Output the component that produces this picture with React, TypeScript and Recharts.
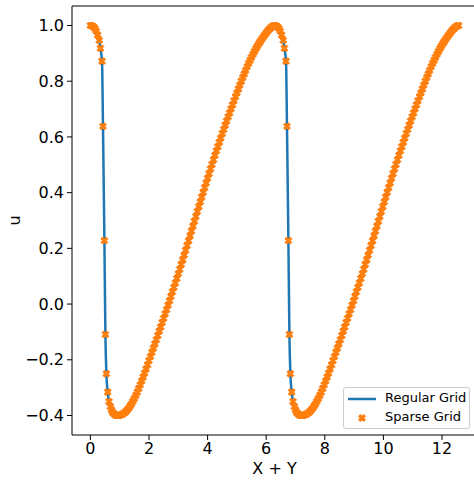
import * as React from "react"
import { ComposedChart, Line, Scatter, XAxis, YAxis, ReferenceLine, Legend } from "recharts"

// X + Y sample positions, first period (top, steep front, slow rise)
const xPeriod1 = [
  0, 0.05, 0.1, 0.15, 0.2, 0.25, 0.3, 0.341, 0.396, 0.43, 0.478, 0.512, 0.546, 0.59, 0.635, 0.68, 0.72, 0.76, 0.8,
  0.85, 0.9, 0.95, 1, 1.05, 1.1, 1.15, 1.2, 1.25, 1.3,
  1.35, 1.4, 1.45, 1.5, 1.55, 1.6, 1.65, 1.7, 1.75, 1.8,
  1.85, 1.9, 1.95, 2, 2.05, 2.1, 2.15, 2.2, 2.25, 2.3,
  2.35, 2.4, 2.45, 2.5, 2.55, 2.6, 2.65, 2.7, 2.75, 2.8,
  2.85, 2.9, 2.95, 3, 3.05, 3.1, 3.15, 3.2, 3.25, 3.3,
  3.35, 3.4, 3.45, 3.5, 3.55, 3.6, 3.65, 3.7, 3.75, 3.8,
  3.85, 3.9, 3.95, 4, 4.05, 4.1, 4.15, 4.2, 4.25, 4.3,
  4.35, 4.4, 4.45, 4.5, 4.55, 4.6, 4.65, 4.7, 4.75, 4.8,
  4.85, 4.9, 4.95, 5, 5.05, 5.1, 5.15, 5.2, 5.25, 5.3,
  5.35, 5.4, 5.45, 5.5, 5.55, 5.6, 5.65, 5.7, 5.75, 5.8,
  5.85, 5.9, 5.95, 6, 6.05, 6.1, 6.15, 6.2, 6.25,
]

// second period
const xPeriod2 = [
  6.28, 6.33, 6.38, 6.43, 6.48, 6.53, 6.58, 6.621, 6.676, 6.71, 6.758, 6.792, 6.826, 6.87, 6.915, 6.96, 7, 7.04, 7.08,
  7.13, 7.18, 7.23, 7.28, 7.33, 7.38, 7.43, 7.48, 7.53, 7.58,
  7.63, 7.68, 7.73, 7.78, 7.83, 7.88, 7.93, 7.98, 8.03, 8.08,
  8.13, 8.18, 8.23, 8.28, 8.33, 8.38, 8.43, 8.48, 8.53, 8.58,
  8.63, 8.68, 8.73, 8.78, 8.83, 8.88, 8.93, 8.98, 9.03, 9.08,
  9.13, 9.18, 9.23, 9.28, 9.33, 9.38, 9.43, 9.48, 9.53, 9.58,
  9.63, 9.68, 9.73, 9.78, 9.83, 9.88, 9.93, 9.98, 10.03, 10.08,
  10.13, 10.18, 10.23, 10.28, 10.33, 10.38, 10.43, 10.48, 10.53, 10.58,
  10.63, 10.68, 10.73, 10.78, 10.83, 10.88, 10.93, 10.98, 11.03, 11.08,
  11.13, 11.18, 11.23, 11.28, 11.33, 11.38, 11.43, 11.48, 11.53, 11.58,
  11.63, 11.68, 11.73, 11.78, 11.83, 11.88, 11.93, 11.98, 12.03, 12.08,
  12.13, 12.18, 12.23, 12.28, 12.33, 12.38, 12.43, 12.48, 12.53,
]

// u, same shape in both periods
const uPeriod = [
  1.0, 0.999, 0.996, 0.99, 0.98, 0.966, 0.947, 0.918, 0.872, 0.638, 0.228, -0.109, -0.25, -0.316, -0.35, -0.368, -0.38, -0.389, -0.394,
  -0.398, -0.4, -0.4, -0.399, -0.397, -0.395, -0.391, -0.387, -0.381, -0.375,
  -0.367, -0.359, -0.349, -0.339, -0.328, -0.316, -0.303, -0.29, -0.276, -0.262,
  -0.248, -0.233, -0.218, -0.203, -0.188, -0.173, -0.158, -0.143, -0.128, -0.113,
  -0.097, -0.082, -0.066, -0.051, -0.035, -0.02, -0.004, 0.012, 0.028, 0.044,
  0.06, 0.076, 0.092, 0.109, 0.125, 0.142, 0.159, 0.176, 0.193, 0.21,
  0.227, 0.245, 0.262, 0.28, 0.297, 0.315, 0.332, 0.35, 0.367, 0.384,
  0.401, 0.418, 0.435, 0.452, 0.468, 0.485, 0.501, 0.518, 0.534, 0.55,
  0.565, 0.581, 0.596, 0.612, 0.627, 0.642, 0.657, 0.672, 0.686, 0.701,
  0.715, 0.73, 0.744, 0.758, 0.772, 0.786, 0.8, 0.813, 0.826, 0.839,
  0.852, 0.864, 0.875, 0.886, 0.897, 0.907, 0.917, 0.926, 0.935, 0.943,
  0.951, 0.959, 0.966, 0.973, 0.98, 0.986, 0.991, 0.996, 0.999,
]

const xEnd = [12.566]
const uEnd = [1.0]

const xTicks = [0, 2, 4, 6, 8, 10, 12]
const yTicks = [-0.4, -0.2, 0.0, 0.2, 0.4, 0.6, 0.8, 1.0]
const xDomain = [-0.628, 13.195]
const yDomain = [-0.47, 1.07]

const BLUE = "#1f77b4"
const ORANGE = "#ff7f0e"
const FONT = "'DejaVu Sans', sans-serif"

const toPoints = (xs: number[], us: number[]) => xs.map((x, i) => ({ x, u: us[i] }))

const points = [
  ...toPoints(xPeriod1, uPeriod),
  ...toPoints(xPeriod2, uPeriod),
  ...toPoints(xEnd, uEnd),
]

// matplotlib's filled "X" marker
const xMarkPath = (cx: number, cy: number, size: number) => {
  const k = size / 4
  const pts = [
    [-1, -2], [0, -1], [1, -2], [2, -1], [1, 0], [2, 1],
    [1, 2], [0, 1], [-1, 2], [-2, 1], [-1, 0], [-2, -1],
  ]
  return "M" + pts.map(([a, b]) => `${cx + a * k},${cy + b * k}`).join("L") + "Z"
}

const XMark = (props: any) => {
  const { cx, cy } = props
  if (cx == null || cy == null) return null
  return <path d={xMarkPath(cx, cy, 7)} fill={ORANGE} stroke={ORANGE} strokeWidth={1} strokeLinejoin="round" />
}

const LegendBox = () => (
  <div
    style={{
      position: "relative",
      width: 127,
      height: 42,
      boxSizing: "border-box",
      border: "1px solid #cccccc",
      borderRadius: 3,
      background: "rgba(255,255,255,0.8)",
      fontFamily: FONT,
      fontSize: 13,
      color: "#000",
    }}
  >
    <svg width={30} height={10} style={{ position: "absolute", left: 3, top: 6 }}>
      <line x1={1} y1={5} x2={29} y2={5} stroke={BLUE} strokeWidth={2.5} />
    </svg>
    <span style={{ position: "absolute", left: 41, top: 2, lineHeight: "16px", whiteSpace: "nowrap" }}>Regular Grid</span>
    <svg width={12} height={12} style={{ position: "absolute", left: 12, top: 24 }}>
      <path d={xMarkPath(6, 6, 7)} fill={ORANGE} stroke={ORANGE} strokeWidth={1} strokeLinejoin="round" />
    </svg>
    <span style={{ position: "absolute", left: 41, top: 21, lineHeight: "16px", whiteSpace: "nowrap" }}>Sparse Grid</span>
  </div>
)

const tickStyle = { fontSize: 16, fontFamily: FONT, fill: "#000" }

export default function App() {
  return (
    <div style={{ position: "absolute", left: 0, top: 0, width: 474, height: 483, overflow: "hidden", background: "#fff" }}>
      <ComposedChart width={480} height={483} margin={{ top: 6, right: 3, bottom: 0, left: 0 }}>
        <XAxis
          dataKey="x"
          type="number"
          domain={xDomain}
          ticks={xTicks}
          allowDataOverflow
          height={48}
          stroke="#000"
          tickSize={5}
          tickMargin={3}
          tick={tickStyle}
          label={(p: any) => {
            const vb = p.viewBox || { x: 72, y: 435, width: 405, height: 48 }
            return (
              <text x={vb.x + vb.width / 2} y={vb.y + vb.height - 9} textAnchor="middle" fontSize={16} fontFamily={FONT} fill="#000">
                X + Y
              </text>
            )
          }}
        />
        <YAxis
          type="number"
          domain={yDomain}
          ticks={yTicks}
          allowDataOverflow
          width={72}
          stroke="#000"
          tickSize={5}
          tickMargin={3}
          tick={tickStyle}
          tickFormatter={(v: number) => v.toFixed(1).replace("-", "\u2212")}
          label={(p: any) => {
            const vb = p.viewBox || { x: 0, y: 6, width: 72, height: 429 }
            const cx = vb.x + 14
            const cy = vb.y + vb.height / 2
            return (
              <text x={cx} y={cy} transform={`rotate(-90, ${cx}, ${cy})`} textAnchor="middle" dominantBaseline="central" fontSize={16} fontFamily={FONT} fill="#000">
                u
              </text>
            )
          }}
        />
        <ReferenceLine y={yDomain[1]} stroke="#000" strokeWidth={1} ifOverflow="extendDomain" />
        <ReferenceLine x={xDomain[1]} stroke="#000" strokeWidth={1} ifOverflow="extendDomain" />
        <Line
          data={points}
          dataKey="u"
          type="monotone"
          stroke={BLUE}
          strokeWidth={2.5}
          dot={false}
          activeDot={false}
          isAnimationActive={false}
          name="Regular Grid"
        />
        <Scatter data={points} dataKey="u" shape={<XMark />} isAnimationActive={false} name="Sparse Grid" />
        <Legend
          layout="vertical"
          align="center"
          verticalAlign="middle"
          content={() => <LegendBox />}
          wrapperStyle={{ left: 343, top: 387, width: 127, height: 42 }}
        />
      </ComposedChart>
    </div>
  )
}
